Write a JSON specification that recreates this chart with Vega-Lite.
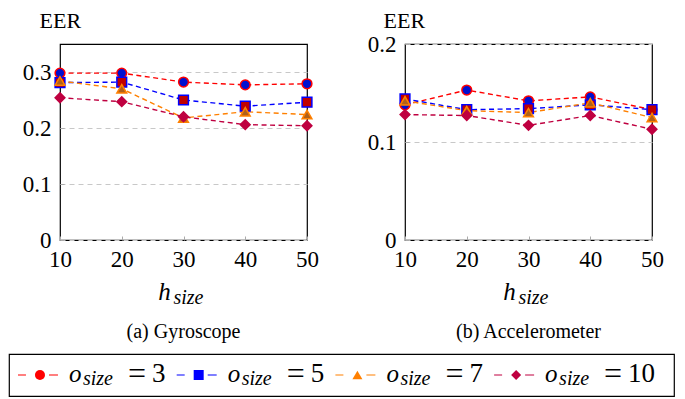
{
  "$schema": "https://vega.github.io/schema/vega-lite/v6.json",
  "padding": {"left": 8, "top": 8, "right": 5, "bottom": 2},
  "config": {
    "font": "Liberation Serif",
    "view": {"stroke": "black", "strokeWidth": 1.2},
    "axis": {"labelFont": "Liberation Serif", "labelFontSize": 23, "labelColor": "black", "titleFont": "Liberation Serif", "titleFontWeight": "normal", "titleColor": "black", "domain": false, "tickColor": "#aaa", "tickSize": -4, "labelFlush": false, "labelOverlap": false},
    "text": {"font": "Liberation Serif", "color": "black"}
  },
  "datasets": {
    "d": [
      {"sensor": "Gyroscope", "h": 10, "o": "3", "eer": 0.298},
      {"sensor": "Gyroscope", "h": 20, "o": "3", "eer": 0.298},
      {"sensor": "Gyroscope", "h": 30, "o": "3", "eer": 0.282},
      {"sensor": "Gyroscope", "h": 40, "o": "3", "eer": 0.277},
      {"sensor": "Gyroscope", "h": 50, "o": "3", "eer": 0.279},
      {"sensor": "Gyroscope", "h": 10, "o": "5", "eer": 0.281},
      {"sensor": "Gyroscope", "h": 20, "o": "5", "eer": 0.282},
      {"sensor": "Gyroscope", "h": 30, "o": "5", "eer": 0.250},
      {"sensor": "Gyroscope", "h": 40, "o": "5", "eer": 0.239},
      {"sensor": "Gyroscope", "h": 50, "o": "5", "eer": 0.246},
      {"sensor": "Gyroscope", "h": 10, "o": "7", "eer": 0.284},
      {"sensor": "Gyroscope", "h": 20, "o": "7", "eer": 0.270},
      {"sensor": "Gyroscope", "h": 30, "o": "7", "eer": 0.218},
      {"sensor": "Gyroscope", "h": 40, "o": "7", "eer": 0.229},
      {"sensor": "Gyroscope", "h": 50, "o": "7", "eer": 0.224},
      {"sensor": "Gyroscope", "h": 10, "o": "10", "eer": 0.254},
      {"sensor": "Gyroscope", "h": 20, "o": "10", "eer": 0.247},
      {"sensor": "Gyroscope", "h": 30, "o": "10", "eer": 0.220},
      {"sensor": "Gyroscope", "h": 40, "o": "10", "eer": 0.206},
      {"sensor": "Gyroscope", "h": 50, "o": "10", "eer": 0.204},
      {"sensor": "Accelerometer", "h": 10, "o": "3", "eer": 0.138},
      {"sensor": "Accelerometer", "h": 20, "o": "3", "eer": 0.153},
      {"sensor": "Accelerometer", "h": 30, "o": "3", "eer": 0.142},
      {"sensor": "Accelerometer", "h": 40, "o": "3", "eer": 0.146},
      {"sensor": "Accelerometer", "h": 50, "o": "3", "eer": 0.133},
      {"sensor": "Accelerometer", "h": 10, "o": "5", "eer": 0.144},
      {"sensor": "Accelerometer", "h": 20, "o": "5", "eer": 0.133},
      {"sensor": "Accelerometer", "h": 30, "o": "5", "eer": 0.134},
      {"sensor": "Accelerometer", "h": 40, "o": "5", "eer": 0.138},
      {"sensor": "Accelerometer", "h": 50, "o": "5", "eer": 0.133},
      {"sensor": "Accelerometer", "h": 10, "o": "7", "eer": 0.142},
      {"sensor": "Accelerometer", "h": 20, "o": "7", "eer": 0.132},
      {"sensor": "Accelerometer", "h": 30, "o": "7", "eer": 0.130},
      {"sensor": "Accelerometer", "h": 40, "o": "7", "eer": 0.140},
      {"sensor": "Accelerometer", "h": 50, "o": "7", "eer": 0.125},
      {"sensor": "Accelerometer", "h": 10, "o": "10", "eer": 0.128},
      {"sensor": "Accelerometer", "h": 20, "o": "10", "eer": 0.127},
      {"sensor": "Accelerometer", "h": 30, "o": "10", "eer": 0.117},
      {"sensor": "Accelerometer", "h": 40, "o": "10", "eer": 0.127},
      {"sensor": "Accelerometer", "h": 50, "o": "10", "eer": 0.113}
    ],
    "leg": [{"o": "3"}, {"o": "5"}, {"o": "7"}, {"o": "10"}]
  },
  "spacing": 10,
  "vconcat": [
    {
      "spacing": 0,
      "hconcat": [
        {"width": 12, "height": 1, "view": {"stroke": null}, "data": {"values": [{"k": 0}]}, "mark": {"type": "point", "size": 0, "opacity": 0}},
        {
          "spacing": 46,
          "hconcat": [
            {
              "width": 247, "height": 196,
              "title": {"text": "(a) Gyroscope", "orient": "bottom", "font": "Liberation Serif", "fontSize": 20, "fontWeight": "normal", "offset": 15, "color": "black"},
              "data": {"name": "d"},
              "transform": [{"filter": "datum.sensor === 'Gyroscope'"}],
              "layer": [
                {"mark": {"type": "line", "strokeDash": [5, 3.5], "strokeWidth": 1.4},
                 "encoding": {
                   "x": {"field": "h", "type": "quantitative", "scale": {"domain": [10, 50]}, "axis": {"values": [10, 20, 30, 40, 50], "labelPadding": 12, "title": "h", "titleFontStyle": "italic", "titleFontSize": 25, "titleX": 104, "titleY": 59, "titleBaseline": "alphabetic", "grid": false}},
                   "y": {"field": "eer", "type": "quantitative", "scale": {"domain": [0, 0.32]}, "axis": {"values": [0, 0.1, 0.2, 0.3], "labelPadding": 13, "labelExpr": "datum.value == 0 ? '0' : format(datum.value, '.1f')", "title": "EER", "titleFontSize": 22, "titleAngle": 0, "titleAlign": "left", "titleBaseline": "alphabetic", "titleX": -21, "titleY": -17, "grid": true, "gridDash": [5, 4], "gridColor": "#c8c8c8"}},
                   "stroke": {"field": "o", "type": "nominal", "scale": {"domain": ["3", "5", "7", "10"], "range": ["#ff0000", "#0000ff", "#ff8000", "#bf0040"]}, "legend": null}
                 }},
                {"mark": {"type": "point", "filled": true, "size": 95, "strokeWidth": 1.5, "opacity": 1},
                 "encoding": {
                   "x": {"field": "h", "type": "quantitative", "axis": {"orient": "bottom", "labels": false, "ticks": false, "domain": false, "grid": false, "title": "size", "titleFontStyle": "italic", "titleFontSize": 20, "titleX": 128, "titleY": 63, "titleBaseline": "alphabetic"}},
                   "y": {"field": "eer", "type": "quantitative"},
                   "stroke": {"field": "o", "type": "nominal", "legend": null},
                   "fill": {"field": "o", "type": "nominal", "scale": {"domain": ["3", "5", "7", "10"], "range": ["#0010d0", "#c00000", "#b0601a", "#bf0040"]}, "legend": null},
                   "shape": {"field": "o", "type": "nominal", "scale": {"domain": ["3", "5", "7", "10"], "range": ["circle", "square", "triangle-up", "diamond"]}, "legend": null}
                 }}
              ],
              "resolve": {"axis": {"x": "independent"}}
            },
            {
              "width": 247, "height": 196,
              "title": {"text": "(b) Accelerometer", "orient": "bottom", "font": "Liberation Serif", "fontSize": 20, "fontWeight": "normal", "offset": 15, "color": "black"},
              "data": {"name": "d"},
              "transform": [{"filter": "datum.sensor === 'Accelerometer'"}],
              "layer": [
                {"mark": {"type": "line", "strokeDash": [5, 3.5], "strokeWidth": 1.4},
                 "encoding": {
                   "x": {"field": "h", "type": "quantitative", "scale": {"domain": [10, 50]}, "axis": {"values": [10, 20, 30, 40, 50], "labelPadding": 12, "title": "h", "titleFontStyle": "italic", "titleFontSize": 25, "titleX": 104, "titleY": 59, "titleBaseline": "alphabetic", "grid": false}},
                   "y": {"field": "eer", "type": "quantitative", "scale": {"domain": [0, 0.2]}, "axis": {"values": [0, 0.1, 0.2], "labelPadding": 13, "labelExpr": "datum.value == 0 ? '0' : format(datum.value, '.1f')", "title": "EER", "titleFontSize": 22, "titleAngle": 0, "titleAlign": "left", "titleBaseline": "alphabetic", "titleX": -22, "titleY": -17, "grid": true, "gridDash": [5, 4], "gridColor": "#c8c8c8"}},
                   "stroke": {"field": "o", "type": "nominal", "legend": null}
                 }},
                {"mark": {"type": "point", "filled": true, "size": 95, "strokeWidth": 1.5, "opacity": 1},
                 "encoding": {
                   "x": {"field": "h", "type": "quantitative", "axis": {"orient": "bottom", "labels": false, "ticks": false, "domain": false, "grid": false, "title": "size", "titleFontStyle": "italic", "titleFontSize": 20, "titleX": 128, "titleY": 63, "titleBaseline": "alphabetic"}},
                   "y": {"field": "eer", "type": "quantitative"},
                   "stroke": {"field": "o", "type": "nominal", "legend": null},
                   "fill": {"field": "o", "type": "nominal", "legend": null},
                   "shape": {"field": "o", "type": "nominal", "legend": null}
                 }}
              ],
              "resolve": {"axis": {"x": "independent"}}
            }
          ]
        }
      ]
    },
    {
      "width": 665, "height": 42,
      "data": {"name": "leg"},
      "encoding": {
        "x": {"field": "o", "type": "ordinal", "scale": {"type": "point", "domain": ["3", "5", "7", "10"], "padding": 0.595, "align": 0.164}, "axis": null}
      },
      "layer": [
        {"mark": {"type": "point", "shape": "M-22,0H-14M9,0H18", "size": 4, "strokeWidth": 1.2, "filled": false, "opacity": 1},
         "encoding": {"stroke": {"field": "o", "type": "nominal", "legend": null}}},
        {"mark": {"type": "point", "filled": true, "size": 100, "opacity": 1},
         "encoding": {"fill": {"field": "o", "type": "nominal", "scale": {"domain": ["3", "5", "7", "10"], "range": ["#ff0000", "#0000ff", "#ff8000", "#bf0040"]}, "legend": null},
                      "shape": {"field": "o", "type": "nominal", "legend": null}}},
        {"mark": {"type": "text", "text": "o", "fontStyle": "italic", "fontSize": 25, "align": "left", "baseline": "alphabetic", "dx": 29, "dy": 7}},
        {"mark": {"type": "text", "text": "size", "fontStyle": "italic", "fontSize": 20, "align": "center", "baseline": "alphabetic", "dx": 58, "dy": 10}},
        {"mark": {"type": "text", "text": "=", "fontSize": 32, "align": "center", "baseline": "alphabetic", "dx": 97, "dy": 9}},
        {"mark": {"type": "text", "fontSize": 27, "align": "left", "baseline": "alphabetic", "dx": 112, "dy": 7},
         "encoding": {"text": {"field": "o", "type": "nominal"}}}
      ]
    }
  ],
  "resolve": {"scale": {"fill": "independent"}}
}
